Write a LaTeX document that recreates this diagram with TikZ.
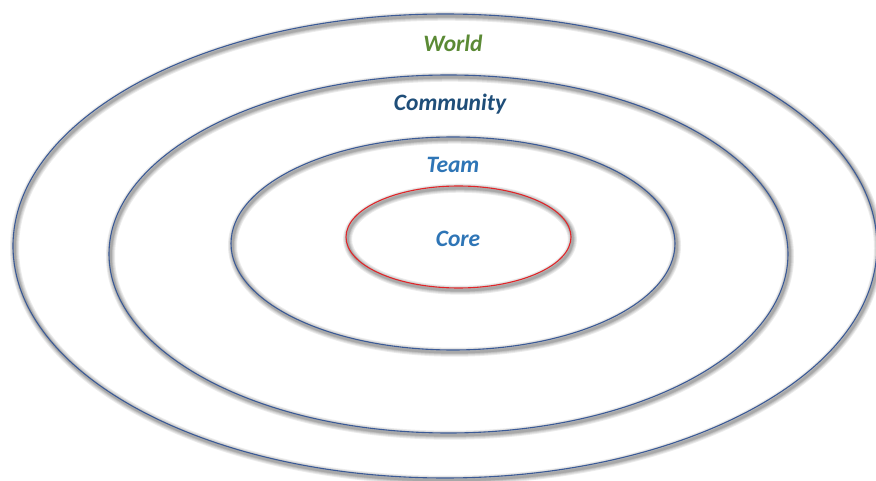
\documentclass[tikz,border=0pt]{standalone}
\usepackage{fontspec}
\setmainfont{Carlito}
\definecolor{ringblue}{HTML}{3B5A96}
\definecolor{corered}{HTML}{E0262A}
\definecolor{worldgreen}{HTML}{5B8A35}
\definecolor{commblue}{HTML}{1F4E79}
\definecolor{teamblue}{HTML}{2E75B6}
\tikzset{
  ringlabel/.style={font=\bfseries\itshape\fontsize{23.5}{27}\selectfont, inner sep=0pt},
  soft/.style={draw=black, draw opacity=0.08, line width=#1},
}
% ring with a soft shadow: \ring{name}{cx}{cy}{rx}{ry}{line colour}
\newcommand{\ring}[6]{%
  \foreach \w in {9,7,5,3.5,2.5}{
    \draw[soft=\w pt] ([xshift=1.5pt,yshift=-2.2pt]#2,#3) ellipse [x radius=#4, y radius=#5];
  }
  \draw[draw=#6, line width=1.1pt] (#2,#3) ellipse [x radius=#4, y radius=#5];
  \coordinate (#1) at (#2,#3);
}
\begin{document}
\begin{tikzpicture}[x=1pt,y=-1pt]
\useasboundingbox[fill=white] (0,0) rectangle (876,481);
\ring{world}{445}{246}{432}{232}{ringblue}
\ring{community}{448.5}{254}{339.5}{179}{ringblue}
\ring{team}{453}{243.5}{222}{106.5}{ringblue}
\ring{core}{458.5}{237}{112.5}{51}{corered}
\node[ringlabel, text=worldgreen] (worldlabel) at (453,43) {World};
\node[ringlabel, text=commblue] (commlabel) at (450,104) {Community};
\node[ringlabel, text=teamblue] (teamlabel) at (453,165) {Team};
\node[ringlabel, text=teamblue] (corelabel) at (458,239) {Core};
\end{tikzpicture}
\end{document}
